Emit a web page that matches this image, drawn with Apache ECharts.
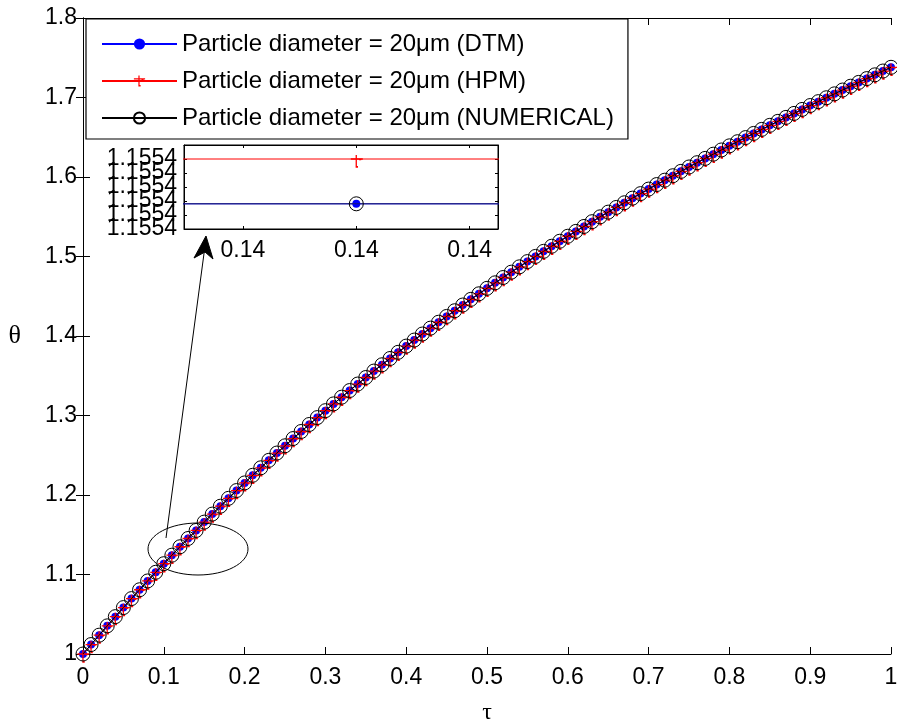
<!DOCTYPE html>
<html>
<head>
<meta charset="utf-8">
<script src="https://cdn.jsdelivr.net/npm/echarts@6/dist/echarts.min.js"></script>
<style>html,body{margin:0;padding:0;background:#fff;}#c{width:897px;height:723px;}</style>
</head>
<body>
<div id="c"></div>
<script>
const tau = [0,0.01,0.02,0.03,0.04,0.05,0.06,0.07,0.08,0.09,0.1,0.11,0.12,0.13,0.14,0.15,0.16,0.17,0.18,0.19,0.2,0.21,0.22,0.23,0.24,0.25,0.26,0.27,0.28,0.29,0.3,0.31,0.32,0.33,0.34,0.35,0.36,0.37,0.38,0.39,0.4,0.41,0.42,0.43,0.44,0.45,0.46,0.47,0.48,0.49,0.5,0.51,0.52,0.53,0.54,0.55,0.56,0.57,0.58,0.59,0.6,0.61,0.62,0.63,0.64,0.65,0.66,0.67,0.68,0.69,0.7,0.71,0.72,0.73,0.74,0.75,0.76,0.77,0.78,0.79,0.8,0.81,0.82,0.83,0.84,0.85,0.86,0.87,0.88,0.89,0.9,0.91,0.92,0.93,0.94,0.95,0.96,0.97,0.98,0.99,1];
const thetaDTM = [1.0000,1.0119,1.0237,1.0354,1.0470,1.0584,1.0697,1.0808,1.0919,1.1028,1.1136,1.1243,1.1349,1.1453,1.1554,1.1659,1.1760,1.1859,1.1958,1.2056,1.2152,1.2248,1.2342,1.2436,1.2528,1.2619,1.2710,1.2799,1.2887,1.2974,1.3061,1.3146,1.3230,1.3314,1.3396,1.3478,1.3559,1.3638,1.3717,1.3795,1.3873,1.3949,1.4025,1.4099,1.4173,1.4246,1.4318,1.4390,1.4461,1.4531,1.4600,1.4669,1.4736,1.4803,1.4870,1.4936,1.5001,1.5065,1.5129,1.5192,1.5255,1.5316,1.5378,1.5438,1.5499,1.5558,1.5617,1.5676,1.5734,1.5791,1.5848,1.5905,1.5960,1.6016,1.6071,1.6126,1.6180,1.6234,1.6287,1.6340,1.6392,1.6444,1.6496,1.6548,1.6599,1.6650,1.6700,1.6750,1.6800,1.6850,1.6899,1.6948,1.6997,1.7046,1.7094,1.7142,1.7190,1.7238,1.7285,1.7333,1.7380];
const thetaHPM = thetaDTM.slice();
const thetaNUM = thetaDTM.slice();

// inset (zoom around tau = 0.14)
const insetTau = [0.139997, 0.14, 0.140003];
const insetDTM = [1.155418, 1.155418, 1.155418];
const insetHPM = [1.155450, 1.155450, 1.155450];
const insetNUM = [1.155418, 1.155418, 1.155418];
const insetXTicks = [0.139999, 0.14, 0.140001];
const insetYLabelsA = [1.15540, 1.15542, 1.15544];
const insetYLabelsB = [1.15541, 1.15543, 1.15545];

const names = ['Particle diameter = 20\u03bcm (DTM)', 'Particle diameter = 20\u03bcm (HPM)', 'Particle diameter = 20\u03bcm (NUMERICAL)'];

const pair = (xs, ys) => xs.map((x, i) => [x, ys[i]]);
const hpmSymbol = 'path://M0,3h11v1.2h-11z M4.4,0h1.2v11h-1.2z M4.4,10h2.2v1.6h-2.2z M7.5,3.8h2v1h-2z';
const FONT = 'Liberation Sans, Arial, sans-serif';

const chart = echarts.init(document.getElementById('c'), null, {renderer: 'canvas'});
const axLine = {show: true, lineStyle: {color: '#000', width: 1}};
const mainTick = {show: true, inside: true, length: 7, lineStyle: {color: '#000', width: 1}};
const inTick = {show: true, inside: true, length: 3, lineStyle: {color: '#000', width: 1}};
const ringStyle = {color: 'rgba(0,0,0,0)', borderColor: '#000', borderWidth: 1};
const insetYFmt = v => (Math.floor(v * 10000 + 1e-7) / 10000).toFixed(4);
const insetYLabel = vals => ({customValues: vals, color: '#000', fontSize: 23, fontFamily: FONT, margin: 7,
  showMinLabel: true, showMaxLabel: true, formatter: insetYFmt});

chart.setOption({
  animation: false,
  backgroundColor: '#fff',
  grid: [
    {left: 83, top: 18, width: 808, height: 636, show: false, outerBoundsMode: 'none', containLabel: false},
    {left: 184, top: 145, width: 314, height: 84, show: true, backgroundColor: '#fff', borderColor: '#000', borderWidth: 1, z: 5, outerBoundsMode: 'none', containLabel: false}
  ],
  xAxis: [
    {type: 'value', gridIndex: 0, min: 0, max: 1, interval: 0.1, position: 'bottom',
     axisLine: axLine, axisTick: mainTick, splitLine: {show: false},
     axisLabel: {color: '#000', fontSize: 23, fontFamily: FONT, margin: 12},
     name: '\u03c4', nameLocation: 'middle', nameGap: 47,
     nameTextStyle: {color: '#000', fontSize: 24, fontFamily: 'Liberation Serif, serif'}},
    {type: 'value', gridIndex: 0, min: 0, max: 1, interval: 0.1, position: 'top',
     axisLine: axLine, axisTick: mainTick, splitLine: {show: false}, axisLabel: {show: false}},
    {type: 'value', gridIndex: 1, min: 0.13999848, max: 0.14000125, position: 'bottom', z: 6,
     axisLine: axLine, splitLine: {show: false},
     axisTick: Object.assign({customValues: insetXTicks}, inTick),
     axisLabel: {customValues: insetXTicks, color: '#000', fontSize: 23, fontFamily: FONT, margin: 10,
                 formatter: v => (+v).toFixed(2)}},
    {type: 'value', gridIndex: 1, min: 0.13999848, max: 0.14000125, position: 'top', z: 6,
     axisLine: axLine, splitLine: {show: false},
     axisTick: Object.assign({customValues: insetXTicks}, inTick), axisLabel: {show: false}}
  ],
  yAxis: [
    {type: 'value', gridIndex: 0, min: 1, max: 1.8, interval: 0.1, position: 'left',
     axisLine: axLine, axisTick: mainTick, splitLine: {show: false},
     axisLabel: {color: '#000', fontSize: 23, fontFamily: FONT, margin: 6},
     name: '\u03b8', nameLocation: 'middle', nameRotate: 0, nameGap: 62,
     nameTextStyle: {color: '#000', fontSize: 26, fontFamily: 'Liberation Serif, serif'}},
    {type: 'value', gridIndex: 0, min: 1, max: 1.8, interval: 0.1, position: 'right',
     axisLine: axLine, axisTick: mainTick, splitLine: {show: false}, axisLabel: {show: false}},
    {type: 'value', gridIndex: 1, min: 1.15540, max: 1.15546, interval: 0.00001, position: 'left', offset: 0, z: 6,
     axisLine: axLine, axisTick: inTick, splitLine: {show: false}, axisLabel: insetYLabel(insetYLabelsA)},
    {type: 'value', gridIndex: 1, min: 1.15540, max: 1.15546, interval: 0.00001, position: 'right', z: 6,
     axisLine: axLine, axisTick: inTick, splitLine: {show: false}, axisLabel: {show: false}},
    {type: 'value', gridIndex: 1, min: 1.15540, max: 1.15546, interval: 0.00001, position: 'left', offset: 0, z: 6,
     axisLine: {show: false}, axisTick: {show: false}, splitLine: {show: false}, axisLabel: insetYLabel(insetYLabelsB)}
  ],
  legend: {
    orient: 'vertical', left: 86, top: 19,
    padding: [13, 14, 9, 15],
    itemWidth: 75, itemHeight: 14, itemGap: 13,
    backgroundColor: '#fff', borderColor: '#000', borderWidth: 1.2, borderRadius: 0,
    textStyle: {color: '#000', fontSize: 24, fontFamily: FONT, lineHeight: 24},
    data: names, z: 10
  },
  series: [
    {name: names[0], type: 'line', xAxisIndex: 0, yAxisIndex: 0, data: pair(tau, thetaDTM),
     symbol: 'circle', symbolSize: 8, showAllSymbol: true,
     lineStyle: {color: '#0000ff', width: 1}, itemStyle: {color: '#0000ff'}, z: 2},
    {name: names[1], type: 'line', xAxisIndex: 0, yAxisIndex: 0, data: pair(tau, thetaHPM),
     symbol: hpmSymbol, symbolSize: [12, 12.6], symbolOffset: [0.5, 2.4], showAllSymbol: true,
     lineStyle: {color: '#ff0000', width: 1}, itemStyle: {color: '#ff0000'}, z: 3},
    {name: names[2], type: 'line', xAxisIndex: 0, yAxisIndex: 0, data: pair(tau, thetaNUM),
     symbol: 'circle', symbolSize: 14, showAllSymbol: true,
     lineStyle: {color: '#000', width: 1}, itemStyle: ringStyle, z: 4},

    {name: names[0], type: 'line', xAxisIndex: 2, yAxisIndex: 2, data: pair(insetTau, insetDTM),
     symbol: 'circle', symbolSize: 8, showAllSymbol: true, clip: true,
     lineStyle: {color: '#0000ff', width: 1}, itemStyle: {color: '#0000ff'}, z: 7},
    {name: names[1], type: 'line', xAxisIndex: 2, yAxisIndex: 2, data: pair(insetTau, insetHPM),
     symbol: hpmSymbol, symbolSize: [12, 12.6], symbolOffset: [0.5, 2.4], showAllSymbol: true, clip: true,
     lineStyle: {color: '#ff0000', width: 1}, itemStyle: {color: '#ff0000'}, z: 7},
    {name: names[2], type: 'line', xAxisIndex: 2, yAxisIndex: 2, data: pair(insetTau, insetNUM),
     symbol: 'circle', symbolSize: 14, showAllSymbol: true, clip: true,
     lineStyle: {color: '#1a1a60', width: 1}, itemStyle: ringStyle, z: 8}
  ],
  graphic: [
    {type: 'ellipse', shape: {cx: 198, cy: 549, rx: 50, ry: 26}, style: {fill: null, stroke: '#000', lineWidth: 1}, z: 20},
    {type: 'line', shape: {x1: 166, y1: 538, x2: 205, y2: 246}, style: {stroke: '#000', lineWidth: 1}, z: 20},
    {type: 'polygon', shape: {points: [[206, 236], [213, 259], [205, 252], [194, 258]]}, style: {fill: '#000', stroke: '#000', lineWidth: 1}, z: 20}
  ]
});
</script>
</body>
</html>
